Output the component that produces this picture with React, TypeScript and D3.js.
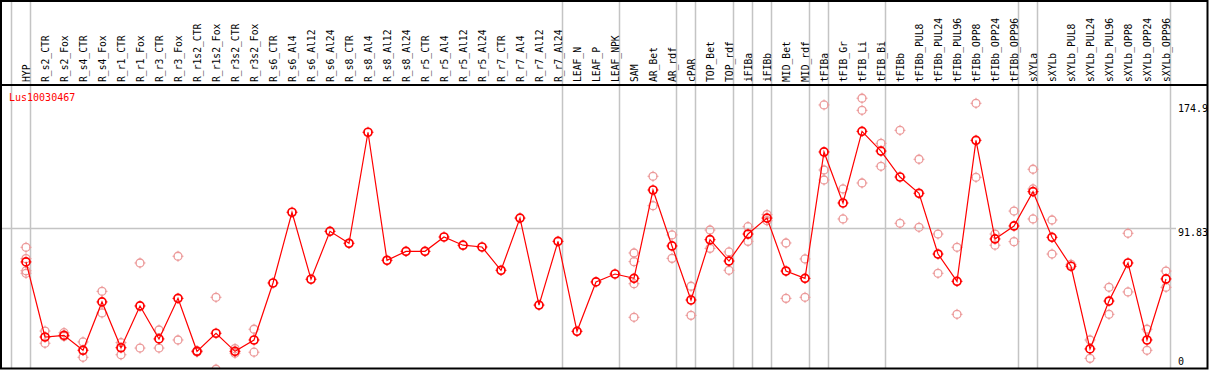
import React, { useEffect, useRef } from 'react';
import * as d3 from 'd3';

const TITLE = 'Lus10030467';

const columns = [
  'HYP', 'R_s2_CTR', 'R_s2_Fox', 'R_s4_CTR', 'R_s4_Fox', 'R_r1_CTR', 'R_r1_Fox',
  'R_r3_CTR', 'R_r3_Fox', 'R_r1s2_CTR', 'R_r1s2_Fox', 'R_r3s2_CTR', 'R_r3s2_Fox',
  'R_s6_CTR', 'R_s6_Al4', 'R_s6_Al12', 'R_s6_Al24', 'R_s8_CTR', 'R_s8_Al4',
  'R_s8_Al12', 'R_s8_Al24', 'R_r5_CTR', 'R_r5_Al4', 'R_r5_Al12', 'R_r5_Al24',
  'R_r7_CTR', 'R_r7_Al4', 'R_r7_Al12', 'R_r7_Al24', 'LEAF_N', 'LEAF_P', 'LEAF_NPK',
  'SAM', 'AR_Bet', 'AR_rdf', 'cPAR', 'TOP_Bet', 'TOP_rdf', 'iFIBa', 'iFIBb',
  'MID_Bet', 'MID_rdf', 'tFIBa', 'tFIB_Gr', 'tFIB_Li', 'tFIB_Bi', 'tFIBb',
  'tFIBb_PUL8', 'tFIBb_PUL24', 'tFIBb_PUL96', 'tFIBb_OPP8', 'tFIBb_OPP24', 'tFIBb_OPP96',
  'sXYLa', 'sXYLb', 'sXYLb_PUL8', 'sXYLb_PUL24', 'sXYLb_PUL96', 'sXYLb_OPP8',
  'sXYLb_OPP24', 'sXYLb_OPP96',
];

// mean expression per sample
const means = [
  69.4, 19.1, 20.2, 10.2, 42.6, 11.9, 39.9, 17.8, 45.0, 9.5, 21.6, 9.5, 17.1,
  55.3, 102.7, 57.8, 89.9, 81.9, 156.3, 70.5, 76.5, 76.5, 86.1, 80.6, 79.4,
  63.8, 98.8, 40.5, 83.2, 22.9, 56.0, 61.3,
  58.4, 117.6, 80.1, 43.9, 84.3, 70.0, 88.1, 98.8, 63.3, 58.4,
  143.1, 108.9, 156.9, 143.7, 126.3, 115.4, 74.7, 56.4, 150.9, 84.8, 93.5,
  116.5, 85.9, 66.5, 11.1, 43.2, 68.7, 17.1, 58.0,
];

// individual replicates (empty = single sample)
const replicates: number[][] = [
  [79.2, 71.6, 63.5, 61.8], [23.1, 14.9], [22.0, 19.5], [15.8, 5.5], [49.7, 35.2],
  [15.3, 7.2], [68.7, 11.7], [23.8, 11.7], [73.2, 17.1], [9.9, 9.0], [45.7, -2.5],
  [11.3, 8.2], [24.3, 8.9],
  [], [], [], [], [], [], [], [], [], [], [], [], [], [], [], [], [], [], [],
  [75.4, 69.6, 54.8, 32.3], [126.8, 107.1], [87.5, 71.8], [53.1, 33.6], [90.8, 78.5],
  [76.1, 63.8], [93.0, 83.2], [101.1, 97.0], [82.1, 45.0], [71.4, 45.7],
  [174.6, 131.0, 124.3], [118.3, 98.2], [179.1, 171.0, 122.3], [148.9, 133.5],
  [157.6, 95.3], [138.2, 92.6], [88.1, 61.8], [79.2, 34.3], [175.7, 126.1],
  [88.1, 80.6], [103.5, 83.0],
  [131.5, 118.3, 98.2], [97.5, 74.7], [67.8], [17.1, 4.8], [52.4, 34.3],
  [88.6, 49.3], [24.3, 10.2], [63.3, 52.4],
];

// grey separators drawn after these samples
const dividerAfter = [
  'HYP', 'R_r7_Al24', 'LEAF_NPK', 'AR_rdf', 'cPAR', 'TOP_rdf', 'iFIBa', 'iFIBb',
  'MID_rdf', 'tFIBa', 'tFIB_Bi', 'tFIBb_OPP96', 'sXYLa', 'sXYLb_OPP96',
];

const yTicks = [0, 91.83, 174.9];

const W = 1209;
const H = 370;
const FONT = '"DejaVu Sans Mono", "Liberation Mono", monospace';

function marker(g, cx, cy, color, sw) {
  const r = 4;
  g.append('circle')
    .attr('cx', cx).attr('cy', cy).attr('r', r)
    .attr('fill', 'none').attr('stroke', color).attr('stroke-width', sw);
  const t = `M${cx},${cy - r - 1.5}v2.5M${cx},${cy + r - 1}v2.5M${cx - r - 1.5},${cy}h2.5M${cx + r - 1},${cy}h2.5`;
  g.append('path').attr('d', t).attr('stroke', color).attr('stroke-width', 1).attr('fill', 'none');
}

export default function App() {
  const ref = useRef<SVGSVGElement>(null);

  useEffect(() => {
    const svg = d3.select(ref.current);
    svg.selectAll('*').remove();

    const x = d3.scalePoint<string>().domain(columns).range([26, 1166]);
    const y = d3.scaleLinear().domain([0, 174.9]).range([365.5, 104.5]);
    const headerY = 85;

    svg.append('rect').attr('width', W).attr('height', H).attr('fill', '#fff');

    svg.append('defs').append('clipPath').attr('id', 'plotclip')
      .append('rect').attr('x', 2).attr('y', headerY + 1).attr('width', 1205).attr('height', 368 - headerY);

    // vertical group separators
    const divX = [x(columns[0])! - x.step() + 4.5, ...dividerAfter.map((c) => x(c)! + 4.5)];
    svg.append('g').selectAll('line').data(divX).join('line')
      .attr('x1', (d) => d).attr('x2', (d) => d)
      .attr('y1', 1).attr('y2', 369)
      .attr('stroke', '#c4c4c4').attr('stroke-width', 1.5);

    // horizontal grid at middle tick
    svg.append('line')
      .attr('x1', 2).attr('x2', 1176)
      .attr('y1', y(yTicks[1])).attr('y2', y(yTicks[1]))
      .attr('stroke', '#c4c4c4').attr('stroke-width', 1.5);

    // column labels
    svg.append('g').selectAll('text').data(columns).join('text')
      .attr('transform', (d) => `translate(${x(d)! + 4},82) rotate(-90)`)
      .attr('font-family', FONT).attr('font-size', 9.7).attr('fill', '#000')
      .text((d) => d);

    // title
    svg.append('text').attr('x', 9).attr('y', 100.5)
      .attr('font-family', FONT).attr('font-size', 10).attr('fill', '#ff0000')
      .text(TITLE);

    // y tick labels
    svg.append('g').selectAll('text').data(yTicks).join('text')
      .attr('x', 1178)
      .attr('y', (d, i) => (i === 0 ? y(d) - 0.5 : y(d) + 7.5))
      .attr('font-family', FONT).attr('font-size', 10).attr('fill', '#000')
      .text((d) => String(d));

    const plot = svg.append('g').attr('clip-path', 'url(#plotclip)');

    // replicates
    const repG = plot.append('g');
    replicates.forEach((reps, i) => {
      reps.forEach((v) => marker(repG, x(columns[i])!, y(v), '#ec9a9a', 1.3));
    });

    // mean line
    const line = d3.line<number>()
      .x((_, i) => x(columns[i])!)
      .y((d) => y(d));
    plot.append('path').datum(means)
      .attr('d', line)
      .attr('fill', 'none').attr('stroke', '#ff0000').attr('stroke-width', 1.2);

    const meanG = plot.append('g');
    means.forEach((v, i) => marker(meanG, x(columns[i])!, y(v), '#ff0000', 1.7));

    // frame
    svg.append('rect').attr('x', 1).attr('y', 1).attr('width', 1206.5).attr('height', 367.5)
      .attr('fill', 'none').attr('stroke', '#000').attr('stroke-width', 2);
    svg.append('line').attr('x1', 1).attr('x2', 1207.5).attr('y1', headerY).attr('y2', headerY)
      .attr('stroke', '#000').attr('stroke-width', 2);
  }, []);

  return (
    <div style={{ position: 'absolute', left: 0, top: 0 }}>
      <svg ref={ref} width={W} height={H} style={{ display: 'block' }} />
    </div>
  );
}
